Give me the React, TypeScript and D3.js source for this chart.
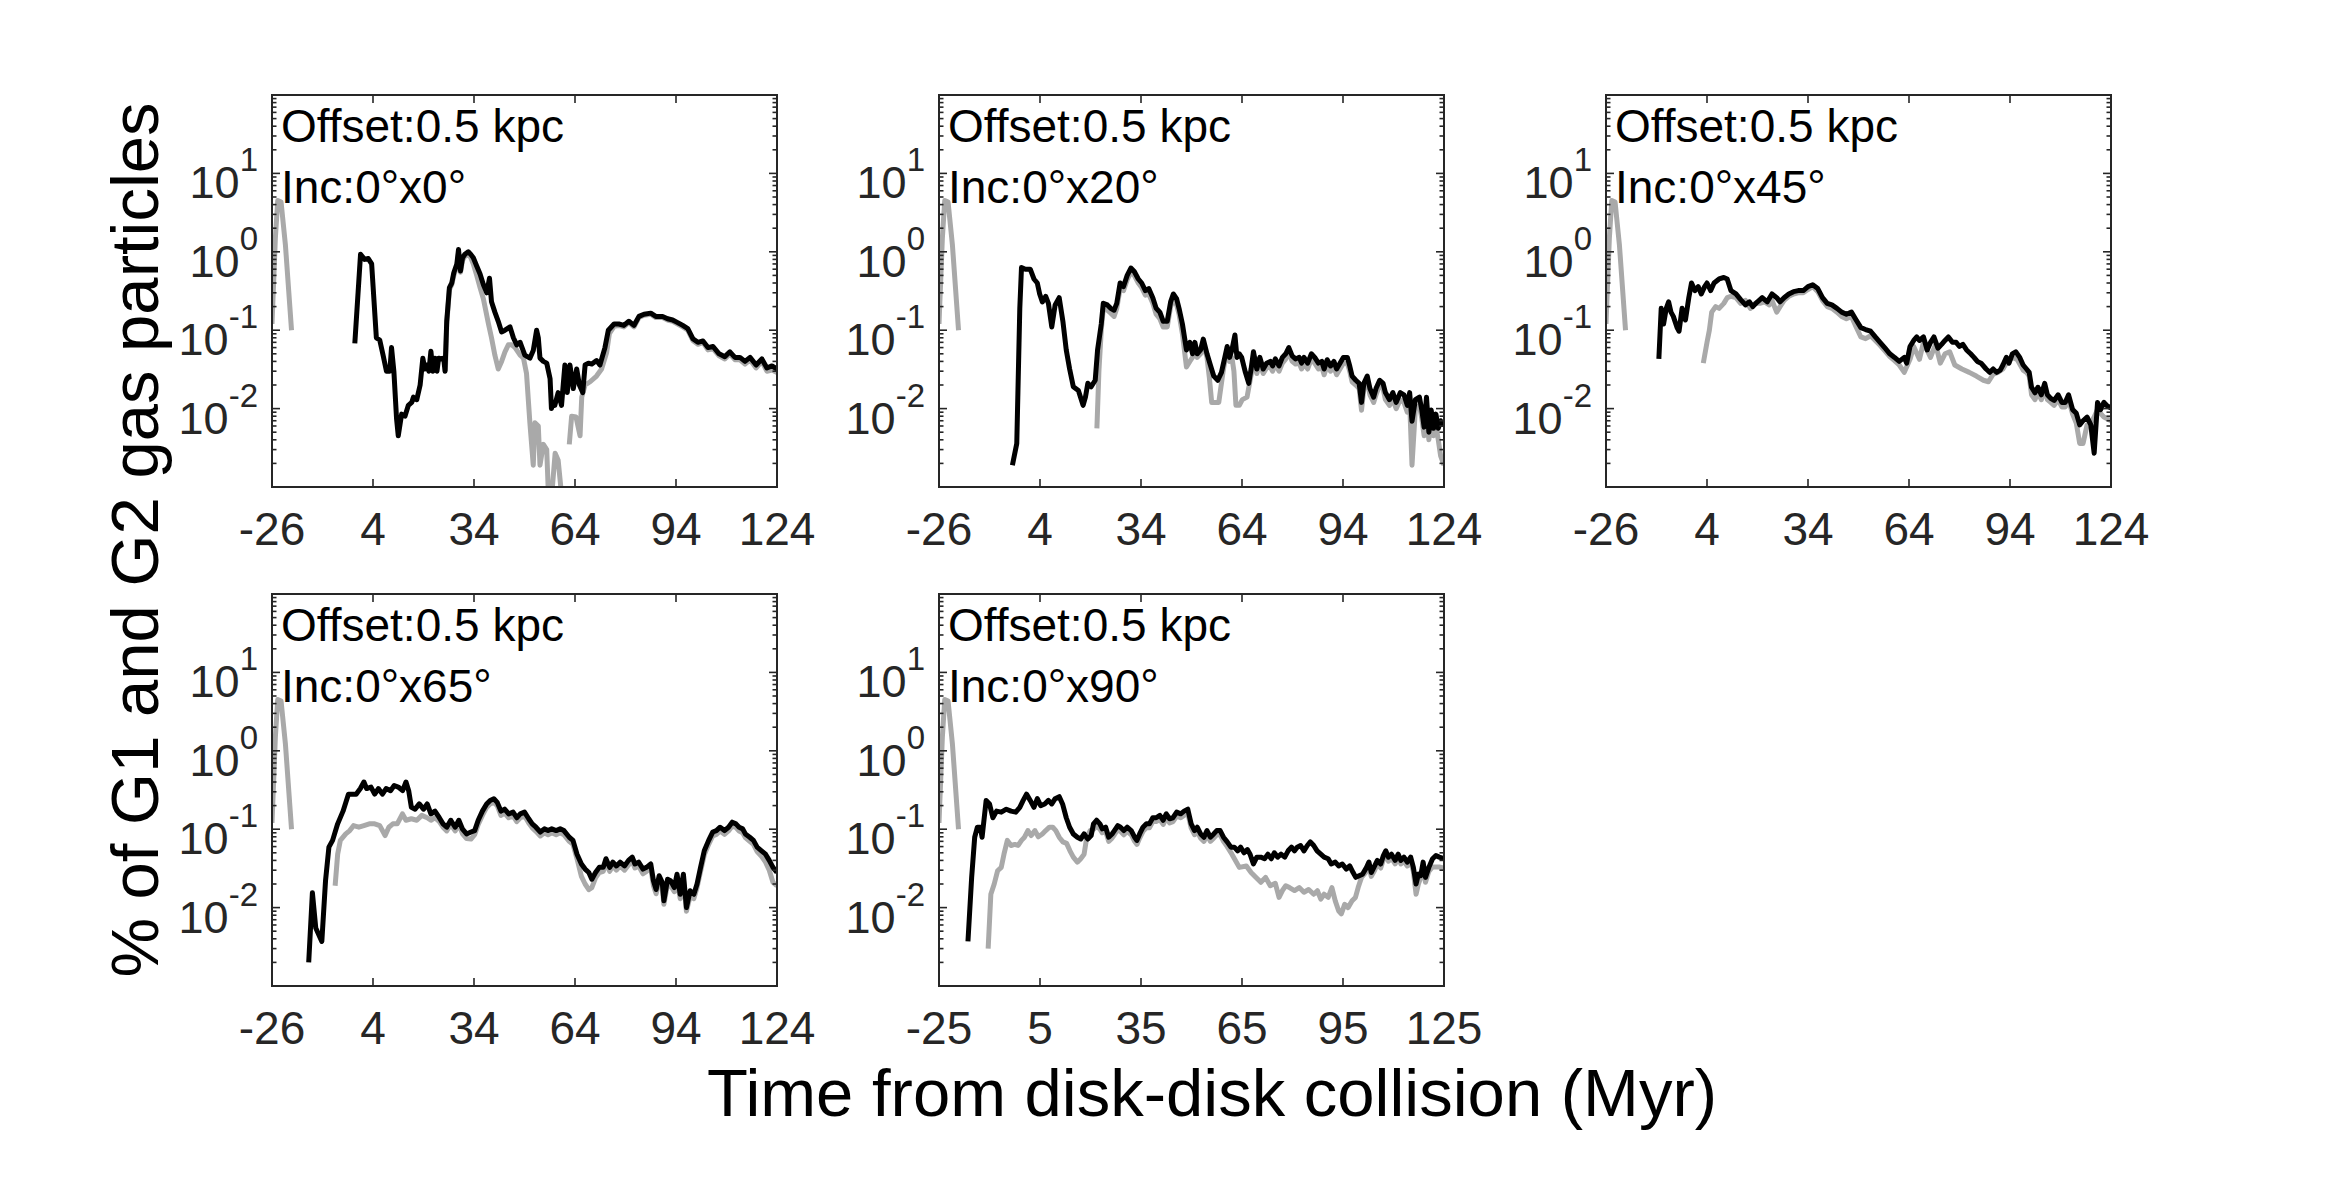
import * as d3 from "d3";

const width = 2348;
const height = 1186;
const colX = [272, 939, 1606];
const rowY = [95, 594];
const panelW = 505;
const panelH = 392;
const font = "'Liberation Sans', Arial, Helvetica, sans-serif";
const axisColor = "#262626";
const grayColor = "#a9a9a9";

type Pt = [number, number | null];

const ticksA = [-26, 4, 34, 64, 94, 124];
const ticksB = [-25, 5, 35, 65, 95, 125];
const yExponents = [-2, -1, 0, 1];
const offsetLabel = "Offset:0.5 kpc";
const incLabels = ["Inc:0°x0°", "Inc:0°x20°", "Inc:0°x45°", "Inc:0°x65°", "Inc:0°x90°"];

// gray curve: the short burst before the collision, then the G2 curve
const p1Black: Pt[] = [
  [-1.4, 0.068], [0.3, 0.93], [1.5, 0.8], [2.6, 0.82], [3.6, 0.7], [5, 0.08], [6, 0.075], [7, 0.048],
  [8, 0.03], [9, 0.03], [9.5, 0.06], [10.2, 0.03], [11, 0.0074], [11.5, 0.0045], [12.5, 0.0085],
  [13.5, 0.008], [14.5, 0.011], [15.5, 0.012], [16, 0.014], [17, 0.013], [18, 0.02], [18.8, 0.044],
  [19.4, 0.032], [20, 0.036], [20.6, 0.03], [21.2, 0.054], [21.8, 0.03], [22.4, 0.044], [23, 0.03],
  [23.5, 0.044], [24.3, 0.043], [25, 0.044], [25.4, 0.03], [25.9, 0.13], [26.7, 0.35], [27.4, 0.4],
  [28, 0.54], [28.9, 0.7], [29.4, 1.07], [30, 0.57], [30.6, 0.84], [31.3, 0.93], [32.3, 1.0], [33, 0.93],
  [33.8, 0.84], [34.8, 0.66], [35.8, 0.52], [36.8, 0.38], [37.8, 0.3], [38.6, 0.46], [39.2, 0.23],
  [40.2, 0.17], [41.2, 0.13], [42.2, 0.095], [43.2, 0.1], [44.7, 0.11], [45.7, 0.08], [46.7, 0.065],
  [47.7, 0.07], [49.1, 0.048], [50.6, 0.044], [51.6, 0.055], [52.6, 0.1], [53.1, 0.08], [53.6, 0.044],
  [54.6, 0.04], [55.6, 0.038], [56.6, 0.024], [57, 0.01], [57.5, 0.012], [58, 0.011], [59, 0.016],
  [60, 0.011], [60.5, 0.02], [61, 0.036], [61.7, 0.016], [62.5, 0.036], [63.5, 0.018], [64.5, 0.032],
  [65.3, 0.02], [66.3, 0.016], [67, 0.036], [68, 0.038], [69, 0.037], [70.4, 0.041], [71.4, 0.036],
  [72.9, 0.06], [73.9, 0.1], [75.6, 0.12], [77, 0.12], [78.5, 0.115], [80, 0.13], [81.5, 0.115],
  [83, 0.15], [84.5, 0.16], [86.5, 0.165], [88, 0.15], [90, 0.15], [91.5, 0.14], [93, 0.135],
  [94.5, 0.125], [96, 0.115], [97.5, 0.105], [99, 0.078], [100.5, 0.07], [102, 0.073], [103.5, 0.06],
  [105, 0.062], [106.8, 0.05], [108.5, 0.046], [110, 0.053], [111.5, 0.045], [113, 0.045],
  [114.5, 0.04], [116, 0.045], [117.8, 0.036], [119.5, 0.043], [121, 0.033], [122.5, 0.035], [124, 0.032],
];
const p1Gray: Pt[] = [
  [-26, 0.12], [-25, 1.5], [-24.3, 4.5], [-23.3, 4.3], [-22, 1.2], [-20.2, 0.1], [-19, null],
  [25.5, 0.03], [25.9, 0.12], [26.7, 0.33], [27.4, 0.38], [28, 0.5], [28.9, 0.65], [29.4, 0.95],
  [30, 0.55], [30.6, 0.78], [31.3, 0.88], [32.3, 0.92], [33, 0.85], [33.8, 0.7], [34.8, 0.5],
  [35.8, 0.35], [36.8, 0.25], [38.3, 0.12], [39.2, 0.08], [40.2, 0.048], [41.2, 0.032], [42.2, 0.04],
  [43.2, 0.053], [44.2, 0.065], [45.2, 0.065], [46.2, 0.06], [47.7, 0.048], [48.7, 0.044],
  [49.6, 0.028], [50.6, 0.0066], [51.6, 0.0019], [52.1, 0.0066], [53.1, 0.006], [53.6, 0.0019],
  [54.6, 0.0035], [55.6, 0.003], [56.1, 0.0008], [57.1, 0.0008], [58.1, 0.0027], [59, 0.0022],
  [60, 0.0008], [60.5, null], [62.3, 0.0035], [63, 0.008], [64.3, 0.0078], [65.5, 0.0045], [66, 0.014],
  [67, 0.02], [68.5, 0.022], [70.4, 0.026], [71.9, 0.032], [73.4, 0.052], [74.2, 0.09], [75.6, 0.112],
  [77, 0.115], [78.5, 0.11], [80, 0.125], [81.5, 0.11], [83, 0.145], [84.5, 0.155], [86.5, 0.16],
  [88, 0.145], [90, 0.145], [91.5, 0.135], [93, 0.13], [94.5, 0.12], [96, 0.11], [97.5, 0.1],
  [99, 0.074], [100.5, 0.066], [102, 0.07], [103.5, 0.056], [105, 0.058], [106.8, 0.047],
  [108.5, 0.043], [110, 0.05], [111.5, 0.042], [113, 0.042], [114.5, 0.037], [116, 0.042],
  [117.8, 0.033], [119.5, 0.04], [121, 0.03], [122.5, 0.031], [124, 0.029],
];

const p2Black: Pt[] = [
  [-4.2, 0.0019], [-2.9, 0.0036], [-2.0, 0.19], [-1.5, 0.63], [-0.3, 0.6], [1.1, 0.6], [2.2, 0.45],
  [3.2, 0.4], [3.9, 0.29], [4.7, 0.23], [5.7, 0.27], [6.5, 0.22], [7.5, 0.11], [8.5, 0.21], [9.7, 0.26],
  [10.8, 0.13], [11.8, 0.056], [12.8, 0.032], [13.9, 0.019], [15.4, 0.017], [16.8, 0.011],
  [17.5, 0.014], [18.2, 0.021], [19.2, 0.019], [20.4, 0.023], [21.1, 0.056], [22.2, 0.12],
  [22.8, 0.22], [24, 0.21], [25, 0.19], [26, 0.18], [26.8, 0.22], [27.8, 0.4], [28.8, 0.36],
  [29.9, 0.5], [31, 0.62], [32, 0.56], [33.2, 0.45], [34.2, 0.4], [35.3, 0.32], [36.3, 0.34],
  [37.5, 0.26], [38.5, 0.19], [39.6, 0.17], [40.6, 0.13], [41.8, 0.13], [42.8, 0.23], [43.6, 0.29],
  [44.6, 0.25], [45.3, 0.19], [46.3, 0.12], [47.5, 0.056], [48.5, 0.07], [49.3, 0.05], [50, 0.07],
  [50.7, 0.05], [51.7, 0.056], [52.5, 0.077], [53.6, 0.05], [54.6, 0.036], [55.6, 0.026],
  [56.8, 0.023], [57.9, 0.029], [58.9, 0.045], [59.6, 0.062], [60.3, 0.045], [61, 0.056],
  [61.9, 0.087], [62.5, 0.045], [63.2, 0.05], [63.9, 0.045], [65, 0.029], [66, 0.021], [66.7, 0.032],
  [67.4, 0.053], [68.4, 0.032], [69.3, 0.045], [70.3, 0.032], [71.3, 0.038], [72.4, 0.04],
  [73.1, 0.035], [73.9, 0.043], [75, 0.035], [76, 0.045], [77, 0.05], [77.9, 0.06], [78.9, 0.047],
  [79.9, 0.043], [81, 0.045], [81.7, 0.038], [82.4, 0.045], [83.5, 0.038], [84.6, 0.05],
  [85.6, 0.045], [86.7, 0.038], [87.7, 0.04], [88.4, 0.032], [89.3, 0.042], [90.3, 0.035],
  [91.3, 0.04], [92.1, 0.032], [93.1, 0.038], [94.1, 0.045], [95.3, 0.045], [96, 0.035],
  [96.7, 0.026], [97.8, 0.023], [98.8, 0.021], [99.5, 0.012], [100.2, 0.021], [101.2, 0.026],
  [102, 0.018], [103.1, 0.014], [103.8, 0.018], [104.9, 0.023], [105.9, 0.021], [106.6, 0.016],
  [107.8, 0.013], [108.8, 0.016], [109.8, 0.012], [111, 0.016], [112.1, 0.015], [113.1, 0.011],
  [113.8, 0.016], [114.5, 0.0069], [115.5, 0.013], [116.7, 0.014], [117.4, 0.0096], [118.1, 0.0058],
  [118.8, 0.014], [119.5, 0.005], [120.2, 0.0096], [120.9, 0.0056], [121.6, 0.0085], [122.3, 0.0056],
  [123, 0.007], [124, 0.006],
];
const p2Gray: Pt[] = [
  [-26, 0.12], [-25, 1.5], [-24.3, 4.5], [-23.3, 4.3], [-22, 1.2], [-20.2, 0.1], [-19, null],
  [20.9, 0.0056], [21.5, 0.03], [22.2, 0.1], [22.8, 0.19], [24, 0.18], [25, 0.165], [26, 0.15],
  [26.8, 0.19], [27.8, 0.34], [28.8, 0.32], [29.9, 0.44], [31, 0.55], [32, 0.5], [33.2, 0.4],
  [34.2, 0.35], [35.3, 0.28], [36.3, 0.29], [37.5, 0.22], [38.5, 0.16], [39.6, 0.14], [40.6, 0.11],
  [41.8, 0.11], [42.8, 0.2], [43.6, 0.25], [44.6, 0.21], [45.3, 0.16], [46.3, 0.09], [47.5, 0.034],
  [48.5, 0.04], [49.3, 0.045], [50, 0.06], [50.7, 0.045], [51.7, 0.05], [52.5, 0.065], [53.6, 0.045],
  [54.3, 0.025], [55, 0.012], [56, 0.012], [57.1, 0.012], [58.4, 0.03], [58.9, 0.04], [59.6, 0.055],
  [60.3, 0.04], [61, 0.045], [61.6, 0.03], [62.2, 0.011], [63.2, 0.011], [64.1, 0.013], [65.5, 0.014],
  [66.9, 0.03], [67.4, 0.045], [68.4, 0.028], [69.3, 0.038], [70.3, 0.028], [71.3, 0.033],
  [72.4, 0.034], [73.1, 0.03], [73.9, 0.037], [75, 0.03], [76, 0.038], [77, 0.043], [77.9, 0.052],
  [78.9, 0.04], [79.9, 0.037], [81, 0.038], [81.7, 0.032], [82.4, 0.038], [83.5, 0.032],
  [84.6, 0.043], [85.6, 0.038], [86.7, 0.032], [87.7, 0.034], [88.4, 0.027], [89.3, 0.036],
  [90.3, 0.03], [91.3, 0.034], [92.1, 0.027], [93.1, 0.032], [94.1, 0.038], [95.3, 0.038],
  [96, 0.03], [96.7, 0.022], [97.8, 0.02], [98.8, 0.018], [99.5, 0.0095], [100.2, 0.018],
  [101.2, 0.022], [102, 0.015], [103.1, 0.012], [103.8, 0.015], [104.9, 0.02], [105.9, 0.018],
  [106.6, 0.013], [107.8, 0.011], [108.8, 0.013], [109.8, 0.01], [111, 0.013], [112.1, 0.012],
  [113.1, 0.009], [113.8, 0.012], [114.5, 0.0019], [115.5, 0.01], [116.7, 0.011], [117.4, 0.0075],
  [118.1, 0.0045], [118.8, 0.011], [119.5, 0.004], [120.2, 0.0075], [120.9, 0.0045], [121.6, 0.006],
  [122.3, 0.004], [123, 0.0025], [124, 0.0019],
];

const p3Black: Pt[] = [
  [-10.3, 0.043], [-9.6, 0.19], [-8.9, 0.12], [-8.1, 0.19], [-7.4, 0.23], [-6.7, 0.17], [-6, 0.15],
  [-4.9, 0.108], [-4.3, 0.097], [-3.4, 0.19], [-2.4, 0.135], [-1.4, 0.26], [-0.6, 0.4], [0.4, 0.32],
  [1.4, 0.36], [2.3, 0.29], [3.3, 0.36], [4, 0.4], [5.1, 0.32], [6.1, 0.4], [7.6, 0.45], [9, 0.47],
  [10, 0.45], [11.1, 0.32], [12.6, 0.29], [14, 0.245], [15.4, 0.21], [16.6, 0.23], [17.6, 0.2],
  [19, 0.23], [20.4, 0.26], [21.9, 0.23], [23.3, 0.29], [24.7, 0.26], [25.7, 0.23], [26.9, 0.26],
  [28.3, 0.29], [29.7, 0.31], [31.1, 0.32], [32.6, 0.32], [34, 0.36], [35.4, 0.38], [36.9, 0.34],
  [38.3, 0.26], [39.7, 0.22], [41.1, 0.21], [42.6, 0.19], [44, 0.17], [45.4, 0.16], [46.9, 0.17],
  [48.3, 0.135], [49.7, 0.108], [51.1, 0.102], [52.6, 0.097], [54, 0.082], [55.4, 0.07], [56.9, 0.059],
  [58.3, 0.05], [59.7, 0.045], [61.1, 0.04], [62.6, 0.045], [63.3, 0.038], [64.3, 0.062],
  [65.4, 0.074], [66.3, 0.082], [67.1, 0.074], [68.3, 0.082], [69.4, 0.056], [70.4, 0.07],
  [71.4, 0.082], [72.6, 0.059], [73.7, 0.066], [74.7, 0.074], [75.7, 0.082], [76.9, 0.07], [78, 0.07],
  [79, 0.062], [80, 0.066], [81.1, 0.056], [82.3, 0.05], [83.3, 0.045], [84.3, 0.04], [85.4, 0.038],
  [86.9, 0.032], [88, 0.029], [89, 0.032], [90, 0.029], [91.1, 0.031], [91.9, 0.036], [92.9, 0.045],
  [93.7, 0.038], [94.7, 0.05], [95.7, 0.053], [96.9, 0.045], [97.9, 0.036], [98.9, 0.032],
  [99.7, 0.029], [100.4, 0.0187], [101.4, 0.0159], [102.3, 0.0187], [103.3, 0.015], [104.3, 0.021],
  [105.1, 0.015], [106.1, 0.0135], [107.1, 0.0127], [108.3, 0.015], [109.4, 0.012], [110.4, 0.012],
  [111.4, 0.015], [112.6, 0.0097], [113.7, 0.0087], [114.7, 0.0062], [115.7, 0.007], [116.9, 0.0078],
  [118, 0.0062], [119, 0.0027], [120, 0.012], [120.9, 0.0097], [121.9, 0.012], [122.9, 0.0108],
  [124, 0.0102],
];
const p3Gray: Pt[] = [
  [-26, 0.12], [-25, 1.5], [-24.3, 4.5], [-23.3, 4.3], [-22, 1.2], [-20.2, 0.1], [-19, null],
  [2.9, 0.038], [4, 0.07], [4.7, 0.1], [5.4, 0.17], [6.6, 0.2], [7.6, 0.19], [9, 0.22], [10, 0.26],
  [11.1, 0.27], [12.6, 0.26], [14, 0.22], [15.4, 0.24], [16.9, 0.19], [18.3, 0.22], [19.7, 0.22],
  [21.1, 0.23], [22.5, 0.21], [23.3, 0.24], [24.7, 0.17], [25.7, 0.2], [26.9, 0.24], [28.3, 0.27],
  [29.7, 0.29], [31.1, 0.3], [32.6, 0.3], [34, 0.33], [35.4, 0.36], [36.9, 0.31], [38.3, 0.24],
  [39.7, 0.2], [41.1, 0.19], [42.6, 0.17], [44, 0.15], [45.4, 0.14], [46.9, 0.15], [48.3, 0.11],
  [49.7, 0.082], [51.1, 0.078], [52.6, 0.085], [54, 0.074], [55.4, 0.064], [56.9, 0.054],
  [58.3, 0.046], [59.7, 0.041], [61.1, 0.036], [62.6, 0.029], [64.3, 0.0425], [65.4, 0.062],
  [67.1, 0.0425], [68.3, 0.07], [70.4, 0.045], [71.9, 0.066], [73.3, 0.038], [74.7, 0.05],
  [76.1, 0.053], [77.6, 0.036], [79.7, 0.032], [81.9, 0.029], [84, 0.026], [86.1, 0.023],
  [87.6, 0.022], [89, 0.0274], [90.4, 0.029], [91.9, 0.032], [92.9, 0.038], [94.7, 0.045],
  [96.1, 0.0425], [97.9, 0.031], [98.9, 0.029], [99.7, 0.026], [100.4, 0.015], [101.4, 0.013],
  [102.3, 0.016], [103.3, 0.013], [104.3, 0.018], [105.1, 0.013], [106.1, 0.012], [107.1, 0.011],
  [108.3, 0.013], [109.4, 0.0105], [110.4, 0.0105], [111.4, 0.013], [112.6, 0.0085], [113.7, 0.0065],
  [114.7, 0.0036], [115.7, 0.0036], [116.9, 0.0062], [118, 0.0066], [119, 0.0078], [120, 0.0097],
  [120.9, 0.0087], [121.9, 0.0078], [124, 0.007],
];

const p4Black: Pt[] = [
  [-15.1, 0.002], [-14, 0.0155], [-13, 0.0055], [-11.2, 0.0037], [-10.1, 0.022], [-9.1, 0.059],
  [-8, 0.072], [-6.5, 0.117], [-4.9, 0.17], [-3.3, 0.28], [-2.25, 0.28], [-1, 0.28], [0.25, 0.33],
  [1.3, 0.4], [2.1, 0.33], [3.4, 0.345], [4.5, 0.28], [5.6, 0.33], [6.8, 0.28], [7.9, 0.33],
  [9.2, 0.31], [10.3, 0.36], [11.5, 0.345], [12.8, 0.31], [13.8, 0.4], [14.6, 0.31], [15.4, 0.19],
  [16.5, 0.18], [17.75, 0.21], [19, 0.18], [20.1, 0.21], [21.2, 0.157], [22.4, 0.17], [23.7, 0.14],
  [24.8, 0.117], [25.9, 0.106], [27.1, 0.13], [28.4, 0.106], [29.5, 0.13], [30.6, 0.1], [31.8, 0.087],
  [33.1, 0.092], [34.2, 0.096], [35.25, 0.13], [36.5, 0.17], [37.75, 0.21], [38.8, 0.233],
  [39.9, 0.245], [40.9, 0.22], [42, 0.17], [43.1, 0.18], [44.3, 0.157], [45.6, 0.165], [46.7, 0.14],
  [47.75, 0.157], [49, 0.165], [50.25, 0.136], [51.3, 0.117], [52.4, 0.106], [53.7, 0.092],
  [54.9, 0.101], [56, 0.096], [57.1, 0.101], [58.4, 0.096], [59.6, 0.101], [60.7, 0.096],
  [62.3, 0.079], [63.4, 0.072], [64.6, 0.048], [65.9, 0.036], [67, 0.031], [68.1, 0.028], [69, 0.023],
  [70.1, 0.028], [71.2, 0.0326], [72.4, 0.0326], [73.2, 0.042], [74.3, 0.0326], [75.25, 0.038],
  [76.3, 0.034], [77.4, 0.038], [78.7, 0.034], [79.9, 0.04], [81, 0.044], [81.8, 0.036], [82.9, 0.038],
  [84.2, 0.031], [85.25, 0.0326], [86.5, 0.036], [87.3, 0.022], [88.1, 0.017], [89, 0.0255],
  [89.9, 0.021], [90.4, 0.0122], [91.5, 0.023], [92.4, 0.022], [93.5, 0.018], [94.3, 0.0267],
  [95.25, 0.0148], [96.2, 0.0267], [97.1, 0.01], [98.2, 0.0164], [99.3, 0.0148], [100.25, 0.02],
  [101.3, 0.0326], [102.4, 0.053], [103.7, 0.072], [104.9, 0.092], [106, 0.096], [107.1, 0.106],
  [108.4, 0.096], [109.6, 0.106], [110.7, 0.123], [111.8, 0.117], [112.75, 0.106], [113.8, 0.101],
  [114.6, 0.087], [115.9, 0.079], [117, 0.072], [118.1, 0.059], [119.4, 0.053], [120.6, 0.048],
  [121.7, 0.04], [122.8, 0.0326], [124, 0.028],
];
const p4Gray: Pt[] = [
  [-26, 0.12], [-25, 1.5], [-24.3, 4.5], [-23.3, 4.3], [-22, 1.2], [-20.2, 0.1], [-19, null],
  [-7.25, 0.019], [-6.5, 0.048], [-5.7, 0.072], [-4.1, 0.087], [-2.9, 0.096], [-1.8, 0.111],
  [-0.2, 0.106], [1.3, 0.111], [2.9, 0.117], [4.5, 0.117], [6, 0.111], [7.6, 0.083], [8.7, 0.106],
  [9.9, 0.117], [11.2, 0.117], [12.75, 0.157], [13.8, 0.13], [15.4, 0.136], [17, 0.13], [18.5, 0.15],
  [20.1, 0.14], [21.2, 0.13], [22.4, 0.14], [23.7, 0.125], [24.8, 0.106], [25.9, 0.095], [27.1, 0.115],
  [28.4, 0.095], [29.5, 0.115], [30.6, 0.087], [31.8, 0.076], [33.1, 0.075], [34.2, 0.085],
  [35.25, 0.115], [36.5, 0.15], [37.75, 0.19], [38.8, 0.21], [39.9, 0.22], [40.9, 0.2], [42, 0.15],
  [43.1, 0.16], [44.3, 0.14], [45.6, 0.148], [46.7, 0.125], [47.75, 0.14], [49, 0.148], [50.25, 0.12],
  [51.3, 0.104], [52.4, 0.094], [53.7, 0.082], [54.9, 0.09], [56, 0.085], [57.1, 0.09], [58.4, 0.085],
  [59.6, 0.09], [60.7, 0.085], [62.3, 0.07], [63.4, 0.064], [64.6, 0.042], [65.9, 0.025], [67, 0.02],
  [68.1, 0.017], [69, 0.018], [70.1, 0.024], [71.2, 0.028], [72.4, 0.029], [73.2, 0.037],
  [74.3, 0.029], [75.25, 0.034], [76.3, 0.03], [77.4, 0.034], [78.7, 0.03], [79.9, 0.035], [81, 0.039],
  [81.8, 0.032], [82.9, 0.034], [84.2, 0.027], [85.25, 0.029], [86.5, 0.032], [87.3, 0.019],
  [88.1, 0.015], [89, 0.022], [89.9, 0.018], [90.4, 0.011], [91.5, 0.02], [92.4, 0.019], [93.5, 0.016],
  [94.3, 0.023], [95.25, 0.013], [96.2, 0.023], [97.1, 0.009], [98.2, 0.014], [99.3, 0.013],
  [100.25, 0.018], [101.3, 0.029], [102.4, 0.047], [103.7, 0.064], [104.9, 0.082], [106, 0.086],
  [107.1, 0.095], [108.4, 0.086], [109.6, 0.095], [110.7, 0.11], [111.8, 0.105], [112.75, 0.095],
  [113.8, 0.09], [114.6, 0.078], [115.9, 0.07], [117, 0.064], [118.1, 0.052], [119.4, 0.045],
  [120.6, 0.038], [121.7, 0.03], [122.8, 0.021], [124, 0.019],
];

const p5Black: Pt[] = [
  [-16.4, 0.0037], [-15.3, 0.0243], [-14.4, 0.079], [-13.6, 0.106], [-12.7, 0.106], [-12.2, 0.079],
  [-11, 0.233], [-10, 0.21], [-9, 0.14], [-7.9, 0.17], [-6.5, 0.165], [-5, 0.18], [-3.6, 0.17],
  [-2.2, 0.165], [-1, 0.19], [0, 0.233], [1, 0.28], [2.1, 0.233], [3.2, 0.19], [4.2, 0.245], [5.2, 0.2],
  [6.4, 0.21], [7.5, 0.233], [8.5, 0.21], [9.5, 0.245], [10.7, 0.26], [11.7, 0.21], [12.8, 0.14],
  [13.8, 0.106], [14.9, 0.087], [16.1, 0.079], [17.1, 0.075], [18.1, 0.087], [19.2, 0.075],
  [20.2, 0.083], [20.9, 0.117], [21.8, 0.13], [22.8, 0.117], [23.5, 0.101], [24.5, 0.106],
  [25.4, 0.079], [26.4, 0.087], [27.1, 0.096], [28.1, 0.111], [28.9, 0.106], [29.9, 0.096],
  [30.9, 0.106], [32.1, 0.096], [33.1, 0.079], [33.8, 0.072], [34.6, 0.087], [35.6, 0.106],
  [36.6, 0.117], [37.5, 0.117], [38.5, 0.14], [39.5, 0.14], [40.6, 0.15], [41.6, 0.13], [42.5, 0.157],
  [43.5, 0.136], [44.5, 0.14], [45.6, 0.165], [46.8, 0.157], [47.8, 0.17], [48.9, 0.18], [49.9, 0.117],
  [50.9, 0.096], [51.7, 0.106], [52.7, 0.087], [53.7, 0.079], [54.6, 0.096], [55.6, 0.079],
  [56.6, 0.087], [57.5, 0.096], [58.5, 0.096], [59.5, 0.079], [60.6, 0.069], [61.7, 0.059],
  [62.7, 0.059], [63.7, 0.053], [64.6, 0.059], [65.6, 0.05], [66.6, 0.055], [67.4, 0.048],
  [68.4, 0.036], [69.4, 0.044], [70.6, 0.044], [71.7, 0.042], [72.7, 0.048], [73.7, 0.042],
  [74.6, 0.05], [75.6, 0.044], [76.6, 0.048], [77.7, 0.044], [78.7, 0.053], [79.7, 0.059],
  [80.6, 0.053], [81.4, 0.059], [82.4, 0.062], [83.4, 0.053], [84.4, 0.062], [85.3, 0.069],
  [86.3, 0.062], [87.3, 0.053], [88.4, 0.048], [89.4, 0.044], [90.6, 0.042], [91.5, 0.036],
  [92.7, 0.038], [93.7, 0.034], [94.8, 0.036], [96, 0.031], [97, 0.034], [98, 0.028], [98.8, 0.0243],
  [99.8, 0.0255], [100.8, 0.0267], [102, 0.0326], [102.7, 0.038], [103.4, 0.028], [104.4, 0.034],
  [105.2, 0.04], [106.2, 0.036], [107, 0.046], [107.7, 0.053], [108.5, 0.044], [109.4, 0.048],
  [110.5, 0.04], [111.4, 0.048], [112.2, 0.04], [113.1, 0.044], [114.1, 0.038], [115.1, 0.044],
  [115.9, 0.0326], [116.7, 0.02], [117.4, 0.0267], [118.1, 0.0255], [118.8, 0.038], [119.5, 0.0243],
  [120.5, 0.0326], [121.6, 0.042], [122.6, 0.046], [123.6, 0.044], [125, 0.042],
];
const p5Gray: Pt[] = [
  [-25, 0.12], [-24, 1.5], [-23.3, 4.5], [-22.3, 4.3], [-21, 1.2], [-19.2, 0.1], [-18, null],
  [-10.4, 0.003], [-9.6, 0.0148], [-8.6, 0.02], [-7.6, 0.0295], [-6.5, 0.0326], [-5.7, 0.048],
  [-4.7, 0.072], [-3.6, 0.062], [-2.5, 0.064], [-1.5, 0.062], [-0.5, 0.072], [0.4, 0.079], [1.4, 0.096],
  [2.4, 0.083], [3.5, 0.096], [4.5, 0.08], [5.7, 0.087], [6.7, 0.096], [7.8, 0.106], [8.8, 0.106],
  [9.7, 0.096], [10.7, 0.079], [11.8, 0.069], [12.9, 0.066], [13.9, 0.053], [14.9, 0.044],
  [16.1, 0.038], [17.1, 0.042], [18.1, 0.048], [18.9, 0.079], [19.9, 0.096], [20.9, 0.1], [21.8, 0.11],
  [22.8, 0.1], [23.5, 0.09], [24.5, 0.094], [25.4, 0.07], [26.4, 0.077], [27.1, 0.085], [28.1, 0.099],
  [28.9, 0.094], [29.9, 0.085], [30.9, 0.094], [32.1, 0.085], [33.1, 0.07], [33.8, 0.064],
  [34.6, 0.077], [35.6, 0.094], [36.6, 0.104], [37.5, 0.104], [38.5, 0.125], [39.5, 0.125],
  [40.6, 0.133], [41.6, 0.115], [42.5, 0.14], [43.5, 0.12], [44.5, 0.125], [45.6, 0.147], [46.8, 0.14],
  [47.8, 0.15], [48.9, 0.16], [49.9, 0.104], [50.9, 0.085], [51.7, 0.094], [52.7, 0.077], [53.7, 0.07],
  [54.6, 0.085], [55.6, 0.07], [56.6, 0.077], [57.5, 0.085], [58.5, 0.085], [59.5, 0.07], [60.6, 0.06],
  [62, 0.048], [64.2, 0.0326], [66.3, 0.034], [67.7, 0.028], [69.1, 0.0243], [70.6, 0.021],
  [72, 0.0243], [73.4, 0.019], [74.9, 0.0204], [76, 0.0135], [77, 0.0165], [78, 0.019], [79.1, 0.018],
  [80.6, 0.0165], [82, 0.018], [83.4, 0.0157], [84.8, 0.017], [86.3, 0.0148], [87.4, 0.0164],
  [88.4, 0.0128], [89.4, 0.0148], [90.6, 0.0135], [91.7, 0.018], [92.7, 0.0122], [93.7, 0.0091],
  [94.5, 0.0083], [95.5, 0.011], [96.5, 0.01], [97.7, 0.0122], [98.7, 0.0135], [99.5, 0.018],
  [100.5, 0.0243], [101.7, 0.028], [102.7, 0.034], [103.4, 0.025], [104.4, 0.03], [105.2, 0.036],
  [106.2, 0.032], [107, 0.041], [107.7, 0.047], [108.5, 0.039], [109.4, 0.043], [110.5, 0.036],
  [111.4, 0.043], [112.2, 0.036], [113.1, 0.039], [114.1, 0.034], [115.1, 0.039], [115.9, 0.029],
  [116.7, 0.0148], [117.4, 0.02], [118.1, 0.0243], [118.8, 0.034], [119.5, 0.021], [120.5, 0.029],
  [121.6, 0.033], [122.6, 0.033], [123.6, 0.033], [125, 0.032],
];

const panels = [
  { col: 0, row: 0, ticks: ticksA, inc: incLabels[0], black: p1Black, gray: p1Gray },
  { col: 1, row: 0, ticks: ticksA, inc: incLabels[1], black: p2Black, gray: p2Gray },
  { col: 2, row: 0, ticks: ticksA, inc: incLabels[2], black: p3Black, gray: p3Gray },
  { col: 0, row: 1, ticks: ticksA, inc: incLabels[3], black: p4Black, gray: p4Gray },
  { col: 1, row: 1, ticks: ticksB, inc: incLabels[4], black: p5Black, gray: p5Gray },
];

const minorTicks: number[] = [];
for (let e = -3; e <= 1; e++) {
  for (let m = 2; m <= 9; m++) minorTicks.push(m * 10 ** e);
}

const Panel = ({ p, i }: { p: (typeof panels)[number]; i: number }) => {
  const x0 = colX[p.col];
  const y0 = rowY[p.row];
  const x = d3.scaleLinear().domain([p.ticks[0], p.ticks[p.ticks.length - 1]]).range([x0, x0 + panelW]);
  const y = d3.scaleLog().domain([1e-3, 1e2]).range([y0 + panelH, y0]);
  const line = d3
    .line<Pt>()
    .defined((d) => d[1] != null)
    .x((d) => x(d[0]))
    .y((d) => y(d[1] as number));
  const clipId = `clip-${i}`;
  const bottom = y0 + panelH;
  const right = x0 + panelW;

  return (
    <g>
      <defs>
        <clipPath id={clipId}>
          <rect x={x0} y={y0} width={panelW} height={panelH} />
        </clipPath>
      </defs>
      <g clipPath={`url(#${clipId})`} fill="none" strokeWidth={5} strokeLinejoin="round">
        <path d={line(p.gray) ?? ""} stroke={grayColor} />
        <path d={line(p.black) ?? ""} stroke="#000" />
      </g>
      <g stroke={axisColor} strokeWidth={1.6}>
        {minorTicks.map((v) => (
          <g key={v}>
            <line x1={x0} x2={x0 + 4.5} y1={y(v)} y2={y(v)} />
            <line x1={right} x2={right - 4.5} y1={y(v)} y2={y(v)} />
          </g>
        ))}
        {[-3, -2, -1, 0, 1, 2].map((e) => (
          <g key={e}>
            <line x1={x0} x2={x0 + 8} y1={y(10 ** e)} y2={y(10 ** e)} />
            <line x1={right} x2={right - 8} y1={y(10 ** e)} y2={y(10 ** e)} />
          </g>
        ))}
        {p.ticks.map((t) => (
          <g key={t}>
            <line x1={x(t)} x2={x(t)} y1={bottom} y2={bottom - 8} />
            <line x1={x(t)} x2={x(t)} y1={y0} y2={y0 + 8} />
          </g>
        ))}
        <rect x={x0} y={y0} width={panelW} height={panelH} fill="none" strokeWidth={2} />
      </g>
      <g fontFamily={font} fill={axisColor}>
        {p.ticks.map((t) => (
          <text key={t} x={x(t)} y={bottom + 58} fontSize={46} textAnchor="middle">
            {t}
          </text>
        ))}
        {yExponents.map((e) => (
          <text key={e} x={x0 - 14} y={y(10 ** e) + 25} fontSize={45} textAnchor="end">
            10
            <tspan dy={-27} fontSize={33}>
              {e}
            </tspan>
          </text>
        ))}
      </g>
      <g fontFamily={font} fill="#000" fontSize={46}>
        <text x={x0 + 9} y={y0 + 47}>{offsetLabel}</text>
        <text x={x0 + 9} y={y0 + 108}>{p.inc}</text>
      </g>
    </g>
  );
};

export default function App() {
  return (
    <svg
      width={width}
      height={height}
      style={{ position: "absolute", left: 0, top: 0, background: "#fff" }}
    >
      <rect width={width} height={height} fill="#fff" />
      {panels.map((p, i) => (
        <Panel key={i} p={p} i={i} />
      ))}
      <text
        x={1212}
        y={1116}
        fontFamily={font}
        fontSize={67}
        textAnchor="middle"
        fill="#000"
      >
        Time from disk-disk collision (Myr)
      </text>
      <text
        transform="translate(158,540) rotate(-90)"
        fontFamily={font}
        fontSize={67}
        textAnchor="middle"
        fill="#000"
      >
        % of G1 and G2 gas particles
      </text>
    </svg>
  );
}
